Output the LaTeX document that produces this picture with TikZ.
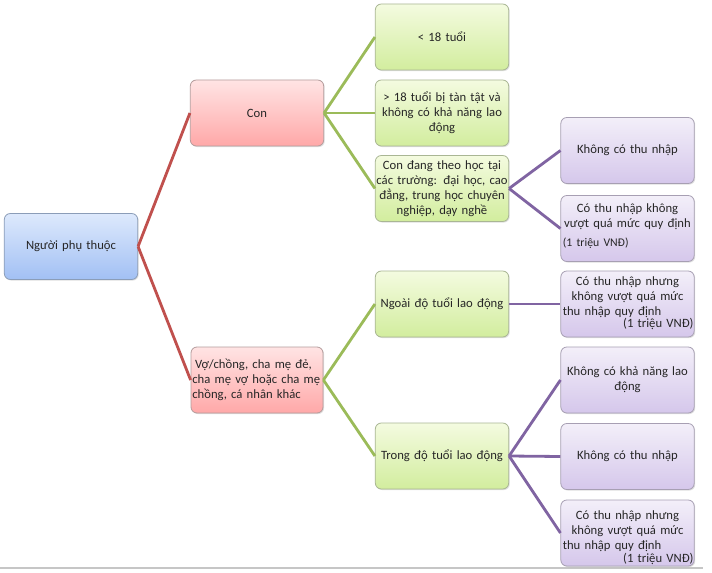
\documentclass[tikz,border=0pt]{standalone}
\usepackage{fontspec}
\setmainfont{Carlito}
\usetikzlibrary{shadows}
\definecolor{cred}{HTML}{C0504D}
\definecolor{cgreen}{HTML}{9BBB59}
\definecolor{cpurple}{HTML}{8064A2}
\definecolor{bluetop}{HTML}{DDE9FC}
\definecolor{bluebot}{HTML}{A2C0F4}
\definecolor{blueedge}{HTML}{8B9DB8}
\definecolor{redtop}{HTML}{FFE4E4}
\definecolor{redbot}{HTML}{FFA8A8}
\definecolor{rededge}{HTML}{B59C9C}
\definecolor{greentop}{HTML}{F4FBE0}
\definecolor{greenbot}{HTML}{D2ED9E}
\definecolor{greenedge}{HTML}{A9B694}
\definecolor{purptop}{HTML}{F3EFF9}
\definecolor{purpbot}{HTML}{D5C7EB}
\definecolor{purpedge}{HTML}{A79FB3}
\tikzset{
  x=0.75pt, y=-0.75pt,
  box/.style={rounded corners=4.5pt, minimum width=99pt, minimum height=49.5pt,
    inner sep=0pt, align=center, text width=100pt, font=\fontsize{9.5pt}{11.3pt}\selectfont,
    line width=0.6pt, text=black!85,
    drop shadow={shadow xshift=0.8pt, shadow yshift=-0.8pt, opacity=0.25}},
  bluebox/.style={box, draw=blueedge, top color=bluetop, bottom color=bluebot},
  redbox/.style={box, draw=rededge, top color=redtop, bottom color=redbot},
  greenbox/.style={box, draw=greenedge, top color=greentop, bottom color=greenbot},
  purplebox/.style={box, draw=purpedge, top color=purptop, bottom color=purpbot},
  redline/.style={draw=cred, line width=2.1pt},
  greenline/.style={draw=cgreen, line width=2.1pt},
  purpleline/.style={draw=cpurple, line width=2.1pt},
}
\newcommand{\fixbox}[2]{\parbox[c][49.5pt][t]{99pt}{\centering\vspace*{#1}#2}}
\begin{document}
\begin{tikzpicture}
\useasboundingbox[fill=white] (0,0) rectangle (712,573);
\draw[gray!45, line width=1.5pt] (0,567.5) -- (703,567.5);

\node[bluebox] (root) at (71,246.5) {Người phụ thuộc};
\node[redbox] (con) at (257,113) {Con};
\node[redbox, align=left, text width=97pt] (vc) at (257,380) {\hspace*{2pt}Vợ/chồng, cha mẹ đẻ,\\cha mẹ vợ hoặc cha mẹ\\chồng, cá nhân khác};

\node[greenbox] (g1) at (442,37) {< 18 tuổi};
\node[greenbox] (g2) at (442,113) {> 18 tuổi bị tàn tật và\\không có khả năng lao\\động};
\node[greenbox] (g3) at (442,188.5) {Con đang theo học tại\\các trường: đại học, cao\\đẳng, trung học chuyên\\nghiệp, dạy nghề};
\node[greenbox] (g4) at (442,304) {Ngoài độ tuổi lao động};
\node[greenbox] (g5) at (442,456) {Trong độ tuổi lao động};

\node[purplebox] (p1) at (627.5,150.5) {Không có thu nhập};
\node[purplebox] (p2) at (627.5,228.5) {\fixbox{6pt}{Có thu nhập không\\vượt quá mức quy định\\[3pt]\makebox[99pt][l]{\hspace*{1pt}\fontsize{8.8pt}{10pt}\selectfont(1 triệu VNĐ)}}};
\node[purplebox] (p3) at (627.5,304) {\fixbox{4pt}{Có thu nhập nhưng\\không vượt quá mức\\\makebox[99pt][l]{\hspace*{1pt}thu nhập quy định}\\[-2pt]\makebox[99pt][r]{(1 triệu VNĐ)}}};
\node[purplebox] (p4) at (627.5,380) {Không có khả năng lao\\động};
\node[purplebox] (p5) at (627.5,456.5) {Không có thu nhập};
\node[purplebox] (p6) at (627.5,533) {\fixbox{8pt}{Có thu nhập nhưng\\không vượt quá mức\\\makebox[99pt][l]{\hspace*{1pt}thu nhập quy định}\\[-2pt]\makebox[99pt][r]{(1 triệu VNĐ)}}};

\draw[redline] (root.east) -- (con.west);
\draw[redline] (root.east) -- (vc.west);
\draw[greenline] (con.east) -- (g1.west);
\draw[greenline] (con.east) -- (g2.west);
\draw[greenline] (con.east) -- (g3.west);
\draw[greenline] (vc.east) -- (g4.west);
\draw[greenline] (vc.east) -- (g5.west);
\draw[purpleline] (g3.east) -- (p1.west);
\draw[purpleline] (g3.east) -- (p2.west);
\draw[purpleline] (g4.east) -- (p3.west);
\draw[purpleline] (g5.east) -- (p4.west);
\draw[purpleline] (g5.east) -- (p5.west);
\draw[purpleline] (g5.east) -- (p6.west);
\end{tikzpicture}
\end{document}
